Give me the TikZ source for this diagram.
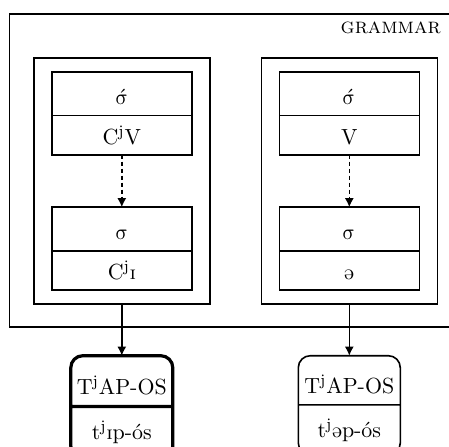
\documentclass[tikz,border=0pt,11pt]{standalone}
\usepackage{tipa}
\usepackage{fontspec}
\newfontfamily\greekfont{latinmodern-math.otf}
\usetikzlibrary{positioning,fit,shapes.multipart,arrows.meta}

% upright sigma, plain and stressed
\newcommand{\syl}{\mbox{\greekfont σ}}
\newcommand{\stsyl}{$\acute{\mbox{\greekfont σ}}$}

% struts fixing the row heights of the split boxes
\newcommand{\toprow}{\rule[-5.2pt]{0pt}{21pt}}
\newcommand{\botrow}{\rule[-4.8pt]{0pt}{18.75pt}}
\newcommand{\outtop}{\rule[-5.2pt]{0pt}{23.75pt}}
\newcommand{\outbot}{\rule[-8.5pt]{0pt}{24.25pt}}

\tikzset{
  cell/.style={rectangle split, rectangle split parts=2, draw, line width=0.8pt,
    minimum width=70pt, inner xsep=2pt, inner ysep=0pt, outer sep=0pt},
  block/.style={draw, line width=0.8pt, inner xsep=9pt, inner ysep=7pt},
  form/.style={rectangle split, rectangle split parts=2, draw, rounded corners=6pt,
    minimum width=51pt, inner xsep=2pt, inner ysep=0pt, outer sep=0pt, line width=0.8pt},
  winner/.style={form, line width=1.6pt},
}

\begin{document}
\begin{tikzpicture}[>={Latex[length=4.5pt,width=4.5pt]}]
\useasboundingbox (0,0) rectangle (224.5pt,-223pt);

% left column
\node[cell, anchor=north] (lefttop) at (60.9pt,-36pt)
  {\toprow\stsyl\nodepart{two}\botrow C\textsuperscript{j}V};
\node[cell, below=26.25pt of lefttop] (leftbot)
  {\toprow\syl\nodepart{two}\botrow C\textsuperscript{j}\textipa{I}};
% right column
\node[cell, right=43.75pt of lefttop] (righttop)
  {\toprow\stsyl\nodepart{two}\botrow V};
\node[cell, below=26.25pt of righttop] (rightbot)
  {\toprow\syl\nodepart{two}\botrow \textipa{@}};

\node[block, fit=(lefttop)(leftbot)] (leftframe) {};
\node[block, fit=(righttop)(rightbot)] (rightframe) {};

% grammar box, runs off to the right
\draw[line width=0.8pt] ([shift={(-11.75pt,21.5pt)}]leftframe.north west)
  rectangle ([shift={(30pt,-11pt)}]rightframe.south east);
\node[anchor=base east, inner sep=0pt] (grammar)
  at ([shift={(1.5pt,11.85pt)}]rightframe.north east) {\textsc{grammar}};

% surface forms
\node[winner, below=25.5pt of leftframe] (leftout)
  {\outtop T\textsuperscript{j}AP-OS\nodepart{two}\outbot t\textsuperscript{j}\textipa{Ip}-\'os};
\node[form, below=25.5pt of rightframe] (rightout)
  {\outtop T\textsuperscript{j}AP-OS\nodepart{two}\outbot t\textsuperscript{j}\textipa{@p}-\'os};

\draw [->, line width=0.8pt, dash pattern=on 2pt off 1.5pt] (lefttop) -- (leftbot);
\draw [->, line width=0.8pt, dash pattern=on 2pt off 1.5pt] (righttop) -- (rightbot);
\draw [->, line width=0.8pt] (leftframe) -- (leftout);
\draw [->, line width=0.8pt] (rightframe) -- (rightout);
\end{tikzpicture}
\end{document}
